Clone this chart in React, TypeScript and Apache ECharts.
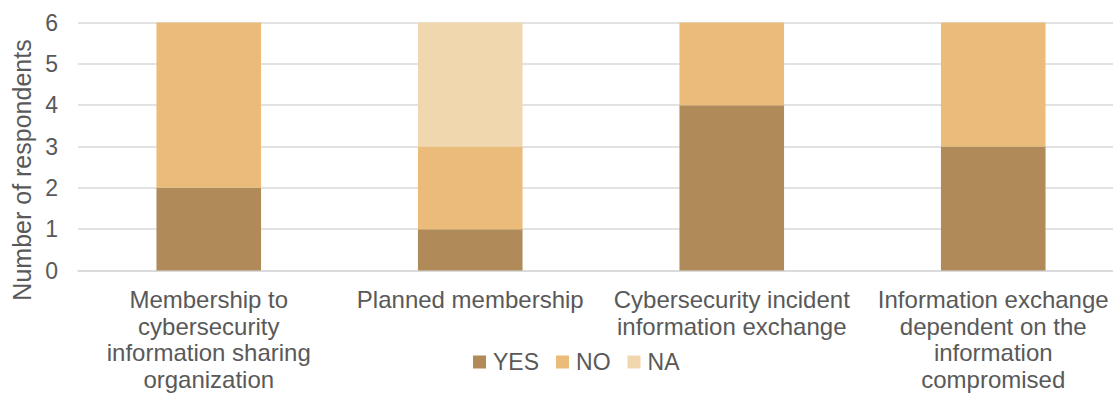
import React, { useEffect, useRef } from "react";
import * as echarts from "echarts";

// Survey topics (line breaks follow the wrapped axis labels)
const categories = [
  "Membership to\ncybersecurity\ninformation sharing\norganization",
  "Planned membership",
  "Cybersecurity incident\ninformation exchange",
  "Information exchange\ndependent on the\ninformation\ncompromised",
];

const yesValues = [2, 1, 4, 3];
const noValues = [4, 2, 2, 3];
const naValues = [0, 3, 0, 0];

const seriesNames = ["YES", "NO", "NA"];
const seriesColors = ["#B08B59", "#EBBC79", "#F1D7AE"];

const yMin = 0;
const yMax = 6;
const yInterval = 1;

const axisTitle = "Number of respondents";

const FONT = "'Liberation Sans', Arial, sans-serif";
const TEXT_COLOR = "#595959";
const GRID_COLOR = "#D9D9D9";

// The plot area runs past the visible right edge, so the chart canvas is
// wider than the clipping frame around it.
const FRAME_W = 1113;
const FRAME_H = 394;
const CHART_W = 1140;

export default function App() {
  const ref = useRef<HTMLDivElement>(null);

  useEffect(() => {
    if (!ref.current) return;
    const chart = echarts.init(ref.current, undefined, { renderer: "svg" });
    const data = [yesValues, noValues, naValues];

    chart.setOption({
      animation: false,
      backgroundColor: "#FFFFFF",
      textStyle: { fontFamily: FONT, color: TEXT_COLOR },
      grid: { left: 78, right: CHART_W - 1124, top: 22.5, bottom: FRAME_H - 270.5, containLabel: false },
      legend: {
        left: 473,
        top: 350,
        padding: 0,
        itemWidth: 13,
        itemHeight: 13,
        itemGap: 17,
        icon: "rect",
        textStyle: {
          fontFamily: FONT,
          fontSize: 23,
          color: TEXT_COLOR,
          lineHeight: 24,
          padding: [0, 0, 0, 2],
        },
        data: seriesNames,
      },
      xAxis: {
        type: "category",
        data: categories,
        axisTick: { show: false },
        axisLine: { lineStyle: { color: GRID_COLOR, width: 1.5 } },
        axisLabel: {
          interval: 0,
          margin: 16,
          fontFamily: FONT,
          fontSize: 24,
          lineHeight: 26.5,
          color: TEXT_COLOR,
          align: "center",
        },
      },
      yAxis: {
        type: "value",
        min: yMin,
        max: yMax,
        interval: yInterval,
        axisLine: { show: false },
        axisTick: { show: false },
        splitLine: { lineStyle: { color: GRID_COLOR, width: 1.5 } },
        axisLabel: {
          margin: 20,
          fontFamily: FONT,
          fontSize: 23,
          color: TEXT_COLOR,
        },
      },
      graphic: [
        {
          type: "text",
          x: 22,
          y: 170,
          rotation: Math.PI / 2,
          style: {
            text: axisTitle,
            font: `25px ${FONT}`,
            fill: TEXT_COLOR,
            textAlign: "center",
            textVerticalAlign: "middle",
          },
        },
      ],
      series: seriesNames.map((name, i) => ({
        name,
        type: "bar",
        stack: "total",
        barWidth: "40%",
        itemStyle: { color: seriesColors[i] },
        data: data[i],
      })),
    });

    return () => chart.dispose();
  }, []);

  return (
    <div
      style={{
        position: "absolute",
        left: 0,
        top: 0,
        width: FRAME_W,
        height: FRAME_H,
        overflow: "hidden",
      }}
    >
      <div ref={ref} style={{ width: CHART_W, height: FRAME_H }} />
    </div>
  );
}
